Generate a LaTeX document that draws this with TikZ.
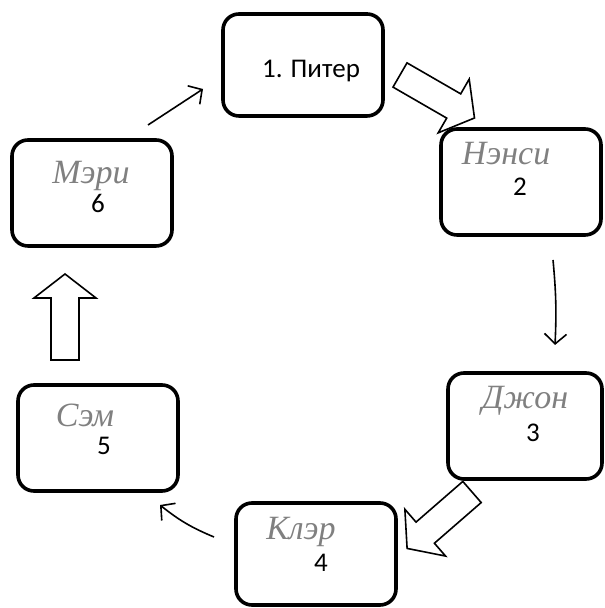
\documentclass[tikz,border=0pt]{standalone}
\usepackage{fontspec}
\setmainfont{Carlito}
\newfontfamily\handfont{Liberation Serif}
\usetikzlibrary{arrows.meta}

\tikzset{
  person/.style={draw, line width=1.8pt, rounded corners=8pt,
    minimum width=80pt, minimum height=53pt, inner sep=0pt},
  hand/.style={font=\handfont\itshape\fontsize{17}{17}\selectfont, text=black!50, inner sep=0pt},
  num/.style={font=\fontsize{13.5}{15}\selectfont, inner sep=0pt},
  link/.style={line width=0.8pt, -{Straight Barb[length=5pt,width=11pt]}},
  hollow arrow/.pic={
    \draw[line width=0.8pt] (0,-14) -- (62,-14) -- (62,-31) -- (86,0)
      -- (62,31) -- (62,14) -- (0,14) -- cycle;
  }
}

\begin{document}
\begin{tikzpicture}[x=0.5pt, y=0.5pt]
  \useasboundingbox (0,0) rectangle (604,608);

  % boxes
  \node[person, minimum height=51pt] (piter) at (303,543) {};
  \node[person] (nensi) at (521,426) {};
  \node[person, minimum width=77pt] (dzhon) at (525,182) {};
  \node[person, minimum height=51pt] (kler) at (316,54) {};
  \node[person] (sem) at (98,170) {};
  \node[person] (meri) at (92,415) {};

  % names and numbers
  \node[num] (t1) at (311,537) {1. Питер};
  \node[hand] (t2) at (506,454) {Нэнси};
  \node[num] (n2) at (520,421) {2};
  \node[hand] (t3) at (525,207) {Джон};
  \node[num] (n3) at (533,175) {3};
  \node[hand] (t4) at (301,76) {Клэр};
  \node[num] (n4) at (321,45) {4};
  \node[hand] (t5) at (85,193) {Сэм};
  \node[num] (n5) at (104,162) {5};
  \node[hand] (t6) at (91,432) {Мэри};
  \node[num] (n6) at (98,405) {6};

  % thin arrows
  \coordinate (s61) at (148,483);
  \coordinate (e61) at (203,519);
  \coordinate (s23) at (553,348);
  \coordinate (e23) at (555,263);
  \coordinate (s45) at (214,71);
  \coordinate (e45) at (160,103);
  \draw[link] (s61) -- (e61);
  \draw[link] (s23) to[bend left=4] (e23);
  \draw[link] (s45) to[bend left=8] (e45);

  % hollow arrows
  \pic[rotate=-30] at (400,533) {hollow arrow};
  \pic[rotate=221] at (472,116) {hollow arrow};
  \pic[rotate=90] at (65,248) {hollow arrow};
\end{tikzpicture}
\end{document}
